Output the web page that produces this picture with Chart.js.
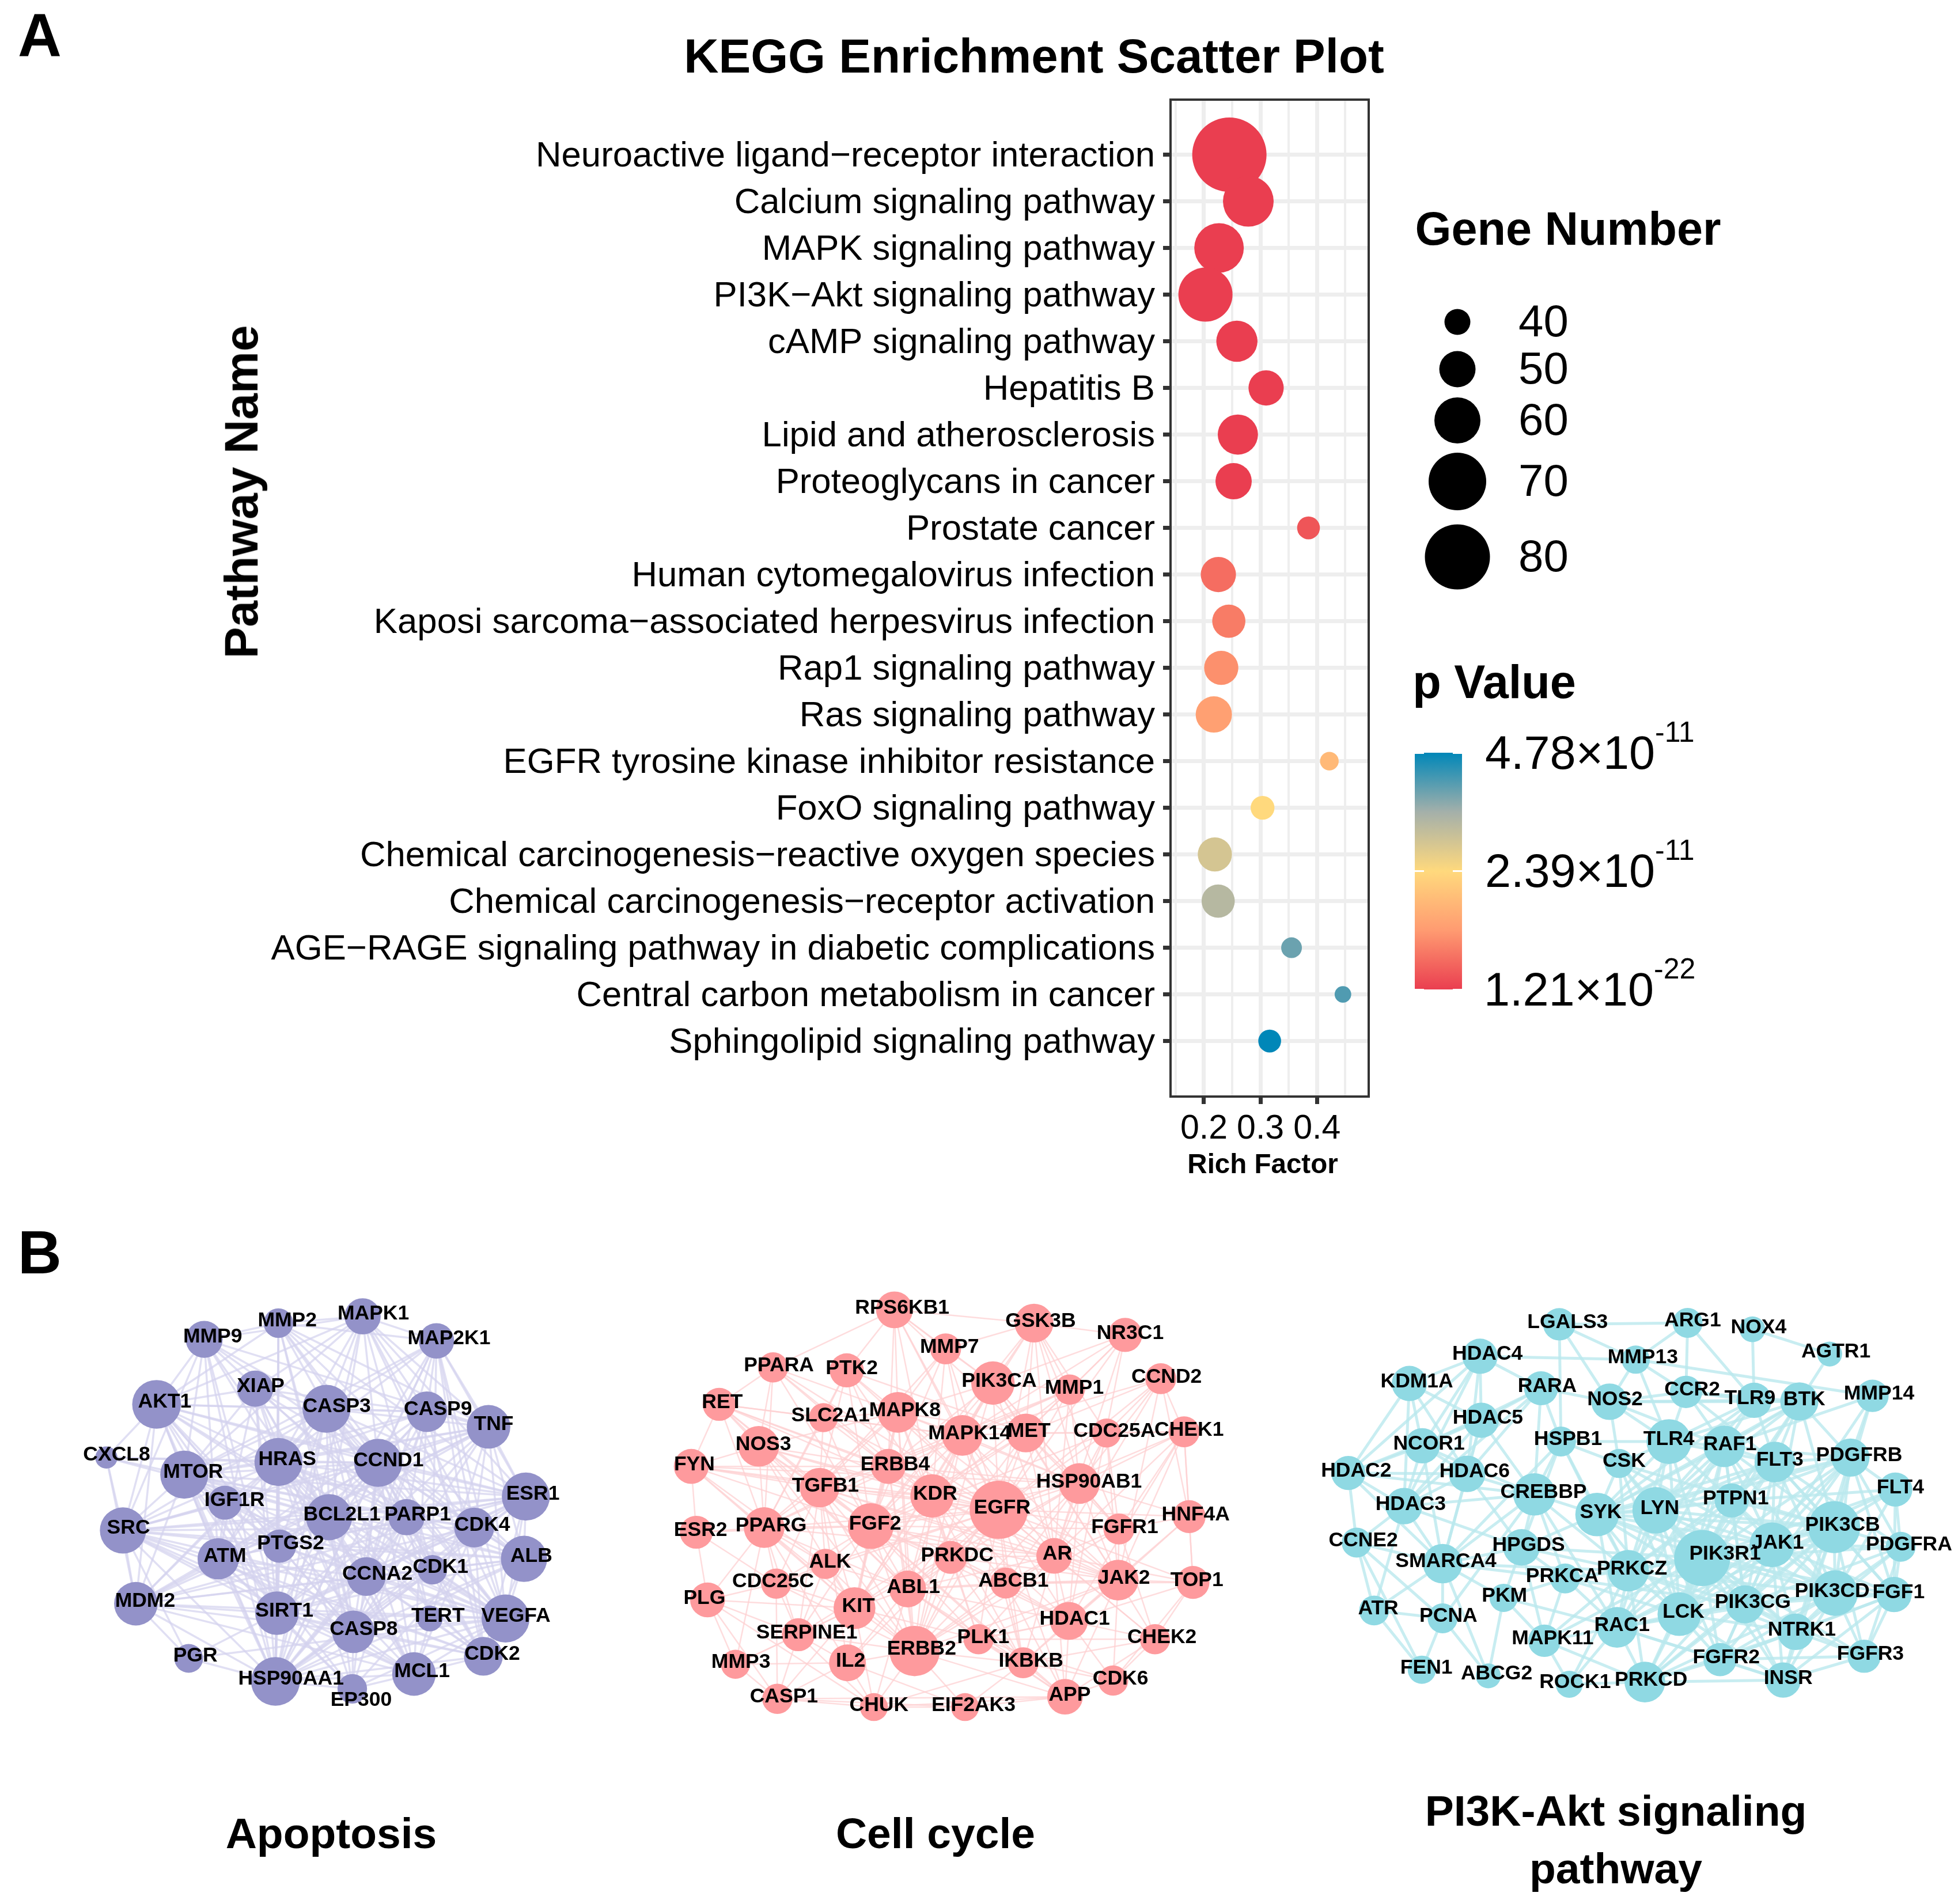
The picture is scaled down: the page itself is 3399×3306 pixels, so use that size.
<!DOCTYPE html>
<html>
<head>
<meta charset="utf-8">
<script src="https://cdn.jsdelivr.net/npm/chart.js@4"></script>
<style>
html,body{margin:0;padding:0;background:#fff;width:3399px;height:3306px;overflow:hidden;font-family:"Liberation Sans",Arial,sans-serif;color:#000}
canvas{position:absolute;display:block}
.t{position:absolute;white-space:nowrap;line-height:1;transform:translate(-50%,-50%)}
.b{font-weight:bold}
.l{position:absolute;white-space:nowrap;line-height:1;transform:translateY(-50%);font-size:81px}
.l span{font-size:50px;vertical-align:47px;line-height:0}
#bar{position:absolute;left:2456px;top:1307px;width:82px;height:411px}
.tk{position:absolute;background:#fff;width:16px;height:3px}
</style>
</head>
<body>
<canvas id="enrich" width="2420" height="2060" style="left:0;top:0"></canvas>
<canvas id="sizeKey" width="440" height="620" style="left:2440px;top:470px"></canvas>
<canvas id="netA" width="1000" height="800" style="left:100px;top:2200px"></canvas>
<canvas id="netB" width="1050" height="800" style="left:1130px;top:2200px"></canvas>
<canvas id="netC" width="1129" height="760" style="left:2270px;top:2240px"></canvas>
<div id="bar"></div>
<script>
// ---------- Panel A data ----------
const pathways = ["Neuroactive ligand\u2212receptor interaction","Calcium signaling pathway","MAPK signaling pathway","PI3K\u2212Akt signaling pathway","cAMP signaling pathway","Hepatitis B","Lipid and atherosclerosis","Proteoglycans in cancer","Prostate cancer","Human cytomegalovirus infection","Kaposi sarcoma\u2212associated herpesvirus infection","Rap1 signaling pathway","Ras signaling pathway","EGFR tyrosine kinase inhibitor resistance","FoxO signaling pathway","Chemical carcinogenesis\u2212reactive oxygen species","Chemical carcinogenesis\u2212receptor activation","AGE\u2212RAGE signaling pathway in diabetic complications","Central carbon metabolism in cancer","Sphingolipid signaling pathway"];
const richFactor = [0.245,0.2785,0.2267,0.2027,0.2583,0.310,0.260,0.2525,0.385,0.2255,0.244,0.2306,0.2175,0.4219,0.3037,0.2193,0.2252,0.355,0.4459,0.3163];
const geneNumber = [94,64,63,67,55,49,54,50,37,49,47,48,50,33,38,48,47,35,31,37];
const pValue = [1.21e-22,4e-21,2e-20,9e-20,3e-19,1e-18,2e-17,9e-17,3.0e-12,6.0e-12,8.0e-12,1.05e-11,1.3e-11,1.77e-11,2.39e-11,2.96e-11,3.35e-11,4.0e-11,4.2e-11,4.78e-11];
const xTickValues = [0.15,0.2,0.25,0.3,0.35,0.4,0.45];
const xTickLabels = {"0.2":"0.2","0.3":"0.3","0.4":"0.4"};
const sizeKeyGenes = [40,50,60,70,80];
const sizeKeySlots = [559,641,730,836,967];
const pKeyLabels = [["4.78\u00d710","-11"],["2.39\u00d710","-11"],["1.21\u00d710","-22"]];
const pMax = 4.78e-11;
const colorStops = [[0,"#EA3E50"],[0.25,"#FF9B71"],[0.5,"#FFD97D"],[0.75,"#A4B0AA"],[1,"#0087B8"]];
const radiusKnots = [[40,22.5],[50,31.5],[60,40],[70,50],[80,56.5],[94,64.5]];

// ---------- Panel B data: Apoptosis ----------
const apoGenes = ["MMP9","MMP2","MAPK1","MAP2K1","AKT1","XIAP","CASP3","CASP9","TNF","CXCL8","MTOR","HRAS","CCND1","ESR1","IGF1R","SRC","BCL2L1","PARP1","CDK4","ATM","PTGS2","ALB","CCNA2","CDK1","MDM2","SIRT1","TERT","VEGFA","CASP8","CDK2","PGR","HSP90AA1","EP300","MCL1"];
const apoX = [397,598,826,1026,268,535,728,1000,1167,132,343,598,868,1268,453,177,735,945,1128,435,601,1263,836,1015,212,594,1008,1213,801,1153,355,590,798,965];
const apoY = [245,190,167,250,465,412,480,490,541,645,703,660,663,777,798,892,847,847,882,988,945,988,1048,1025,1140,1172,1190,1190,1235,1318,1325,1403,1428,1378];
const apoSize = [100,80,98,96,132,98,130,110,118,60,130,130,130,130,92,125,125,98,108,112,90,125,105,80,118,118,70,130,115,105,78,132,80,118];
const apoLabelDx = [23,24,29,34,22,15,28,30,14,28,24,24,28,19,26,15,35,30,22,18,30,20,30,22,25,20,22,28,28,24,18,42,24,22];
const apoEdges = [[1,2,4,6,8,10,11,12,15,16,19,25,27,31],[2,3,4,6,8,11,12,13,16,21,25,27,28,31],[3,4,5,6,7,8,10,11,12,13,16,18,23,27,31],[6,7,8,10,11,12,13,16,18,22,23,27,29,31],[5,6,7,9,10,11,12,13,14,15,16,19,20,24,25,27,28,31,33],[6,7,10,11,12,16,17,19,25,28,31,33],[7,8,10,11,12,13,15,16,17,18,19,20,21,22,23,24,25,27,28,29,31,33],[8,10,11,12,16,17,19,22,28,29,33,31],[10,11,12,13,15,16,18,19,21,24,25,27,28,31,33],[10,11,12,15,16,24],[11,12,13,14,15,16,17,18,19,20,21,22,24,25,27,28,31,32],[12,13,14,15,16,17,18,19,20,21,22,23,24,25,27,28,29,31,32,33],[13,15,16,17,18,19,20,21,22,23,24,25,26,27,28,29,31,32,33],[15,16,18,19,20,21,22,24,25,27,28,29,31,32],[15,16,19,20,22,25,27,31],[16,18,19,20,21,24,25,27,28,29,30,31,33],[17,19,20,21,22,24,25,27,28,29,31,32,33],[18,22,23,25,28,26,31,32],[21,22,23,24,25,27,29,31,33],[20,22,24,25,27,28,29,31,32,33],[21,22,25,27,28,31],[22,24,25,27,28,29,31],[23,24,25,26,27,29,31,33],[27,29,31,25,28],[25,27,28,30,31,33],[27,28,29,30,31,32,33],[29,31],[28,29,30,31,32,33],[29,31,32,33],[31,33],[31],[32,33],[33],[]];

// ---------- Panel B data: Cell cycle ----------
const cycGenes = ["RPS6KB1","GSK3B","NR3C1","MMP7","PPARA","PTK2","PIK3CA","MMP1","CCND2","RET","SLC2A1","MAPK8","MAPK14","MET","CDC25A","CHEK1","NOS3","FYN","ERBB4","TGFB1","KDR","EGFR","HSP90AB1","HNF4A","FGFR1","ESR2","PPARG","FGF2","ALK","PRKDC","AR","CDC25C","ABCB1","ABL1","JAK2","TOP1","PLG","KIT","HDAC1","SERPINE1","ERBB2","PLK1","CHEK2","IL2","IKBKB","MMP3","CASP1","CHUK","EIF2AK3","APP","CDK6"];
const cycX = [628,988,1223,760,315,505,882,1080,1315,176,445,637,803,967,1175,1375,278,104,612,435,725,897,1105,1388,1207,117,292,567,450,773,1040,323,915,662,1205,1398,146,525,1078,380,680,845,1300,507,960,218,326,575,810,1068,1192];
const cycY = [145,190,230,277,340,350,393,415,378,465,510,492,570,562,562,558,607,675,675,747,775,822,733,845,887,898,882,877,1005,983,978,1072,1070,1090,1060,1068,1127,1155,1198,1245,1300,1260,1260,1340,1340,1345,1462,1490,1490,1455,1400];
const cycSize = [95,100,88,80,78,88,112,78,80,85,75,105,105,100,75,80,105,90,90,102,112,150,105,85,80,85,105,118,78,85,92,78,80,95,105,85,90,108,98,85,130,78,78,95,80,75,78,72,72,92,78];
const cycLabelDx = [20,17,13,10,15,13,16,12,15,8,18,18,19,8,20,13,12,8,18,15,8,9,25,17,15,11,18,11,12,17,8,-8,20,15,15,10,-8,10,15,22,18,12,18,8,20,14,17,13,22,12,19];
const cycEdges = [[1,3,4,5,6,11,12,13,18,20,21],[2,3,6,7,12,13,14,21,22,24,27,30],[6,7,12,13,21,30,38],[6,11,12,21,27,19,20],[9,16,18,11,20,21,26,27],[11,18,20,21,27,19,26,10,13],[7,11,12,13,18,20,21,22,27,30,34,40,24,37],[13,21,12,22,30,19,26,20],[13,14,15,21,22,30,34,12,23],[10,16,17,20,21,27,19,26,33,12,18],[11,12,18,21,26,19,27],[12,13,16,18,19,20,21,22,27,26,33,34,37,40,29],[13,18,20,21,22,27,19,30,33,34,37,40,44],[14,15,20,21,22,27,30,34,40,33,24],[15,21,22,24,34,30,27],[21,22,23,24,34,35,30,38],[17,19,20,21,26,27,18,33,37,40],[19,20,21,26,27,25,18,22,28,37],[19,20,21,22,27,26,33,37,40],[20,21,26,27,28,33,37,40,30,31,39,43,34,32],[21,22,27,29,30,33,34,37,40,38,32,41,44],[22,24,27,29,30,32,33,34,37,38,40,41,42,43,44,49,26,23,35,28,31,39],[24,27,30,34,38,40,33,37,23,32],[24,34,35,38],[30,34,27,40,42],[26,27,36,31],[27,28,31,33,36,37,39,40,43,45,30],[28,29,30,31,33,34,37,38,39,40,43,32,41,44,49],[33,37,40,31,39],[30,33,34,38,40,41,44],[32,33,34,35,38,40,41,42,44,49],[36,37,39,46,40],[33,34,38,40,44,49,35],[34,37,38,40,41,43,44,47,49],[35,38,40,41,42,44,49,50],[38,42,50],[39,45,46,37,47],[39,40,43,41,46,45,47],[40,41,42,44,49,50],[40,43,45,46,47],[41,43,44,47,48,49],[44,49,50,42],[49,50,44],[46,47,48,45],[49,48,50,47],[46],[47,48,49],[48,49],[49],[50],[]];

// ---------- Panel B data: PI3K-Akt ----------
const pi3Genes = ["LGALS3","ARG1","NOX4","AGTR1","HDAC4","MMP13","KDM1A","RARA","NOS2","CCR2","TLR9","BTK","MMP14","HDAC5","HSPB1","TLR4","RAF1","NCOR1","CSK","FLT3","PDGFRB","HDAC6","HDAC2","FLT4","CREBBP","PTPN1","SYK","LYN","HDAC3","PIK3CB","JAK1","CCNE2","PIK3R1","PDGFRA","HPGDS","SMARCA4","PRKCZ","PRKCA","PIK3CD","FGF1","PKM","ATR","PCNA","PIK3CG","LCK","RAC1","NTRK1","MAPK11","FGFR3","FGFR2","FEN1","ABCG2","ROCK1","PRKCD","INSR"];
const pi3X = [606,915,1071,1257,415,790,245,562,727,911,1075,1184,1360,418,610,870,1003,276,750,1125,1307,384,98,1415,546,1021,697,838,232,1268,1118,118,950,1428,515,325,772,620,1270,1412,472,160,325,1053,895,745,1175,570,1340,993,275,435,630,812,1145];
const pi3Y = [122,117,140,228,236,248,333,350,398,363,393,397,377,464,540,540,557,555,618,613,597,655,652,711,728,750,800,785,770,845,908,900,955,915,917,975,1000,1028,1080,1085,1097,1142,1170,1120,1155,1202,1218,1250,1305,1317,1353,1375,1405,1397,1390];
const pi3Size = [78,72,62,60,85,68,85,82,88,78,85,92,78,85,72,108,100,85,70,98,92,88,82,82,102,82,105,112,88,125,108,72,135,72,88,95,100,72,110,85,68,72,72,92,105,98,88,78,80,80,68,60,65,98,85];
const pi3LabelDx = [20,12,15,15,18,17,18,15,13,15,-10,12,16,16,17,0,14,16,12,12,21,18,19,12,22,10,9,10,16,20,14,16,55,20,17,8,9,-7,-7,11,2,10,14,19,10,12,15,20,15,15,11,20,14,15,12];
const pi3Edges = [[1,5,8,14],[5,9,10],[3,10],[11],[5,6,7,13,17,21,22,28],[8,9,12,15],[13,17,21,22,28],[8,13,14,17,21,24,28],[9,10,15,16,18,11],[10,11,15,16,19],[11,15,16,19,26,27],[15,16,19,20,25,26,27,29,30,32],[20,29,30,16],[17,21,22,28,24,35],[15,18,24,34,35,36,26],[16,18,19,26,27,25,32,44,36],[19,20,25,26,27,29,30,32,36,38,43,44,45],[21,22,28,24,35],[26,27,32,44,29,30,36],[20,25,26,27,29,30,32,36,38,43,44,33,39],[23,25,26,27,29,30,32,33,38,39,43,44,46],[22,24,28,35,34],[24,28,31,35],[29,30,32,33,38,39,25],[26,28,34,35,36,37,42,45],[26,27,29,30,32,36,38,43,44,45],[27,29,30,32,34,36,38,43,44,45],[29,30,32,36,38,43,44,45,46,49],[31,35,34,41],[30,32,33,36,38,39,43,44,45,46,48,49,53,54],[32,33,36,38,39,43,44,45,46,49,53,54],[35,41,42,50],[33,36,37,38,39,43,44,45,46,47,48,49,53,54,34],[38,39,43,46,48],[35,36,37,40,47],[37,40,41,42,51,36],[37,38,43,44,45,47,52,53,46],[40,45,47,44,43],[39,43,44,45,46,48,49,53,54],[46,48,49,54,43],[45,47,51],[42,50],[50,51],[44,45,46,48,49,53,54],[45,46,49,53,54],[47,49,52,53,54],[48,49,53,54],[52,53],[54,49],[53,54],[],[],[53],[54],[]];

// ---------- helpers ----------
Chart.defaults.font.family = '"Liberation Sans", Arial, sans-serif';
Chart.defaults.color = '#000';
const FONT = '"Liberation Sans", Arial, sans-serif';
function hexRgb(h){return [1,3,5].map(i=>parseInt(h.substr(i,2),16));}
function colorFor(p){
  const t=Math.min(1,p/pMax);
  for(let i=1;i<colorStops.length;i++){
    if(t<=colorStops[i][0]){
      const [a,ca]=colorStops[i-1],[b,cb]=colorStops[i],f=(t-a)/(b-a);
      const A=hexRgb(ca),B=hexRgb(cb);
      return 'rgb('+A.map((v,k)=>Math.round(v+(B[k]-v)*f)).join(',')+')';
    }
  }
  return colorStops[colorStops.length-1][1];
}
function radiusFor(n){
  const k=radiusKnots;
  if(n<=k[0][0]) return k[0][1]+0.9*(n-k[0][0]);
  for(let i=1;i<k.length;i++) if(n<=k[i][0]){
    const f=(n-k[i-1][0])/(k[i][0]-k[i-1][0]);
    return k[i-1][1]+(k[i][1]-k[i-1][1])*f;
  }
  return k[k.length-1][1];
}
function addText(txt,cx,cy,size,bold,rot){
  const d=document.createElement('div');
  d.className='t'+(bold?' b':'');
  d.style.left=cx+'px';d.style.top=cy+'px';d.style.fontSize=size+'px';
  if(rot) d.style.transform='translate(-50%,-50%) rotate('+rot+'deg)';
  d.textContent=txt;document.body.appendChild(d);
}
// nudges the y tick labels so the capitals sit centred on the tick marks
const nudgeY={id:'nudgeY',beforeDraw(c){
  const s=c.scales.y;
  if(s._nudged) return;
  s.getLabelItems().forEach(it=>{it.options.translation[1]+=3;});
  s._nudged=true;
}};

// ---------- Panel A chart ----------
const boxPlugin={id:'box',afterDatasetsDraw(c){
  const a=c.chartArea,x=c.ctx;x.save();x.strokeStyle='#333';x.lineWidth=4;
  x.strokeRect(a.left,a.top,a.right-a.left,a.bottom-a.top);x.restore();}};
const isMajor=v=>xTickLabels[String(Math.round(v*100)/100)]!==undefined;
new Chart(document.getElementById('enrich'),{
  type:'bubble',
  data:{datasets:[{
    data:pathways.map((_,i)=>({x:richFactor[i],y:i+1,r:radiusFor(geneNumber[i])})),
    backgroundColor:pValue.map(colorFor),borderWidth:0,hoverRadius:0
  }]},
  options:{
    responsive:false,animation:false,devicePixelRatio:1,
    layout:{autoPadding:false,padding:{left:0,top:173,right:44,bottom:56}},
    plugins:{legend:{display:false},tooltip:{enabled:false}},
    scales:{
      x:{type:'linear',min:0.1409,max:0.4915,
        afterBuildTicks:s=>{s.ticks=xTickValues.map(v=>({value:v}));},
        afterFit:s=>{s.height=100;s.paddingLeft=0;s.paddingRight=0;},
        ticks:{autoSkip:false,maxRotation:0,padding:8,color:'#000',font:{size:59},
          callback:v=>xTickLabels[String(Math.round(v*100)/100)]||''},
        border:{display:false},
        grid:{color:'#eeeeee',lineWidth:c=>c.tick&&isMajor(c.tick.value)?7:4,tickLength:13,
          tickColor:c=>c.tick&&isMajor(c.tick.value)?'#333':'rgba(0,0,0,0)',tickWidth:c=>c.tick&&isMajor(c.tick.value)?7:0}
      },
      y:{type:'linear',reverse:true,min:-0.18,max:21.19,
        afterBuildTicks:s=>{s.ticks=pathways.map((_,i)=>({value:i+1}));},
        afterFit:s=>{s.width=2032;s.paddingTop=0;s.paddingBottom=0;},
        ticks:{autoSkip:false,padding:14,color:'#000',font:{size:61.7},callback:v=>pathways[v-1]},
        border:{display:false},
        grid:{color:'#eeeeee',lineWidth:7,tickLength:13,tickColor:'#333',tickWidth:7}
      }
    }
  },
  plugins:[boxPlugin,nudgeY]
});

// ---------- Gene Number size key ----------
new Chart(document.getElementById('sizeKey'),{
  type:'bubble',
  data:{datasets:[{
    data:sizeKeyGenes.map((g,i)=>({x:0,y:sizeKeySlots[i],r:radiusFor(g)})),
    backgroundColor:'#000',borderWidth:0
  }]},
  options:{
    responsive:false,animation:false,devicePixelRatio:1,
    layout:{autoPadding:false,padding:0},
    plugins:{legend:{display:false},tooltip:{enabled:false}},
    scales:{
      x:{display:false,min:-90,max:90},
      y:{position:'right',reverse:true,min:470,max:1090,
        afterBuildTicks:s=>{s.ticks=sizeKeySlots.map(v=>({value:v}));},
        afterFit:s=>{s.width=260;s.paddingTop=0;s.paddingBottom=0;},
        ticks:{autoSkip:false,padding:8,color:'#000',font:{size:78},
          callback:v=>String(sizeKeyGenes[sizeKeySlots.indexOf(v)])},
        border:{display:false},grid:{display:false}
      }
    }
  },
  plugins:[nudgeY]
});

// ---------- p Value colour key ----------
const bar=document.getElementById('bar');
bar.style.background='linear-gradient(to top,'+colorStops.map(s=>s[1]+' '+(s[0]*100)+'%').join(',')+')';
[[0],[50],[100]].forEach(([pct])=>{
  [0,66].forEach(l=>{
    const t=document.createElement('div');t.className='tk';
    t.style.left=l+'px';t.style.top='calc('+pct+'% - 1.5px)';bar.appendChild(t);
  });
});
[1307,1512,1718].forEach((y,i)=>{
  const d=document.createElement('div');d.className='l';
  d.style.left=(i==2?2576:2578)+'px';d.style.top=y+'px';
  d.append(pKeyLabels[i][0]);
  const s=document.createElement('span');s.textContent=pKeyLabels[i][1];d.appendChild(s);
  document.body.appendChild(d);
});

// ---------- networks ----------
function network(id,genes,X,Y,S,dx,edges,opt){
  const cv=document.getElementById(id);
  const W=opt.zoomW,H=1560;
  const ds=[{
    data:genes.map((_,i)=>({x:X[i],y:Y[i]})),
    backgroundColor:opt.node,borderWidth:0,
    pointRadius:S.map(s=>s/(W/cv.width)/2),pointHoverRadius:S.map(s=>s/(W/cv.width)/2),
    clip:false
  }];
  edges.forEach((list,a)=>list.forEach(b=>{
    ds.push({data:[{x:X[a],y:Y[a]},{x:X[b],y:Y[b]}],showLine:true,borderColor:opt.edge,
      borderWidth:opt.width,pointRadius:0,pointHoverRadius:0,clip:false});
  }));
  const labels={id:'geneLabels',afterDatasetsDraw(c){
    const x=c.ctx;x.save();x.font='bold '+opt.font+'px '+FONT;x.fillStyle='#000';
    x.textAlign='center';x.textBaseline='middle';
    genes.forEach((g,i)=>{
      const dy=(opt.dy&&opt.dy[g]!==undefined)?opt.dy[g]:opt.dy0;
      x.fillText(g,c.scales.x.getPixelForValue(X[i]+dx[i]),c.scales.y.getPixelForValue(Y[i]+dy));
    });
    x.restore();}};
  new Chart(cv,{type:'scatter',data:{datasets:ds},
    options:{responsive:false,animation:false,devicePixelRatio:1,layout:{autoPadding:false,padding:0},
      plugins:{legend:{display:false},tooltip:{enabled:false}},
      scales:{x:{display:false,min:0,max:W},y:{display:false,reverse:true,min:0,max:H}}},
    plugins:[labels]});
}
network('netA',apoGenes,apoX,apoY,apoSize,apoLabelDx,apoEdges,{zoomW:1560,node:'#9392C9',edge:'rgba(212,211,238,0.72)',width:3.5,font:35.5,dy0:-8,dy:{EP300:39}});
network('netB',cycGenes,cycX,cycY,cycSize,cycLabelDx,cycEdges,{zoomW:1560,node:'#FE9A9D',edge:'rgba(253,208,210,0.75)',width:2.5,font:35.5,dy0:-6,dy:{}});
network('netC',pi3Genes,pi3X,pi3Y,pi3Size,pi3LabelDx,pi3Edges,{zoomW:1566,node:'#8FD9E3',edge:'rgba(186,232,238,0.8)',width:5,font:35.5,dy0:-7,dy:{PIK3R1:-15}});

// ---------- titles ----------
addText('A',69,61,105,true);
addText('B',69,2174,105,true);
addText('KEGG Enrichment Scatter Plot',1795,98,83.5,true);
addText('Pathway Name',419,854,82,true,-90);
addText('Rich Factor',2192,2021,47.5,true);
addText('Gene Number',2722,397,81,true);
addText('p Value',2594,1184,81,true);
addText('Apoptosis',575,3183,75,true);
addText('Cell cycle',1624,3183,75,true);
addText('PI3K-Akt signaling',2805,3144,75,true);
addText('pathway',2805,3244,75,true);
</script>
</body>
</html>
